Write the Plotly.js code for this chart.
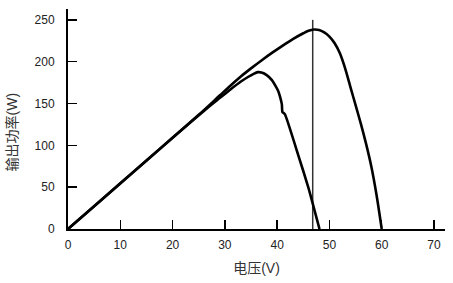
<!DOCTYPE html>
<html>
<head>
<meta charset="utf-8">
<script src="https://cdn.plot.ly/plotly-3.0.1.min.js"></script>
<style>html,body{margin:0;padding:0;background:#fff;}#chart{width:453px;height:283px;}</style>
</head>
<body>
<div id="chart"></div>
<script>
// Upper P-V curve (full irradiance)
const upperV = [0, 5, 10, 15, 20, 25, 29, 31, 33, 35, 37, 39, 41, 43, 45, 46, 47, 48, 49, 50, 51, 52, 53, 54, 55, 56, 57, 58, 59, 60];
const upperP = [0, 27.3, 54.6, 82, 109, 136.5, 159.5, 171, 182, 192, 201.5, 210.5, 219, 227, 234, 237, 238.5, 238, 235, 230, 222, 210, 192, 170, 148, 126, 102, 75, 41, 0];
// Lower P-V curve (partial shading, with notch)
const lowerV = [0, 10, 20, 27, 29, 31, 33, 34.5, 35.5, 36.3, 37, 38, 39, 39.6, 40.2, 40.6, 40.9, 41.0, 41.5, 44, 46, 48.1];
const lowerP = [0, 54.5, 109, 146.5, 156.5, 166.5, 176, 182, 185.5, 187.5, 187, 184, 178, 172, 165, 157, 149, 140, 137, 89, 49, 0];
// Marker line at maximum power voltage
const mppV = [46.8, 46.8];
const mppP = [0, 250];

const xTicks = [0, 10, 20, 30, 40, 50, 60, 70];
const yTicks = [0, 50, 100, 150, 200, 250];
const xTitle = '电压(V)';
const yTitle = '输出功率(W)';

const fontFam = 'Arial, "Liberation Sans", "Noto Sans CJK SC", sans-serif';

const traces = [
  {x: mppV, y: mppP, mode: 'lines', line: {color: '#333', width: 1.5}, hoverinfo: 'skip'},
  {x: upperV, y: upperP, mode: 'lines', line: {color: '#000', width: 2.6, shape: 'spline', smoothing: 0.8}},
  {x: lowerV, y: lowerP, mode: 'lines', line: {color: '#000', width: 2.6, shape: 'spline', smoothing: 0.4}}
];

const layout = {
  width: 453, height: 283,
  margin: {l: 68, r: 8, t: 9, b: 54},
  paper_bgcolor: '#fff', plot_bgcolor: '#fff',
  showlegend: false,
  font: {family: fontFam, size: 12, color: '#222'},
  xaxis: {
    range: [0, 72.1], tickvals: xTicks, ticktext: xTicks.map(String),
    ticks: 'inside', ticklen: 9, tickwidth: 1.5, tickcolor: '#000',
    showline: true, linecolor: '#000', linewidth: 2,
    showgrid: false, zeroline: false,
    tickfont: {size: 12, color: '#222'}, ticklabelstandoff: 4,
    title: {text: xTitle, font: {size: 14, color: '#333'}, standoff: 12}
  },
  yaxis: {
    range: [0, 263], tickvals: yTicks, ticktext: yTicks.map(String),
    ticks: 'inside', ticklen: 9, tickwidth: 1.5, tickcolor: '#000',
    showline: true, linecolor: '#000', linewidth: 2,
    showgrid: false, zeroline: false,
    tickfont: {size: 12, color: '#222'}, ticklabelstandoff: 9
  },
  annotations: [
    {text: yTitle, textangle: -90, xref: 'paper', yref: 'paper', x: -0.148, y: 0.44,
     xanchor: 'center', yanchor: 'middle', showarrow: false, font: {size: 14, color: '#333'}}
  ]
};

Plotly.newPlot('chart', traces, layout, {staticPlot: true, displayModeBar: false});
</script>
</body>
</html>
